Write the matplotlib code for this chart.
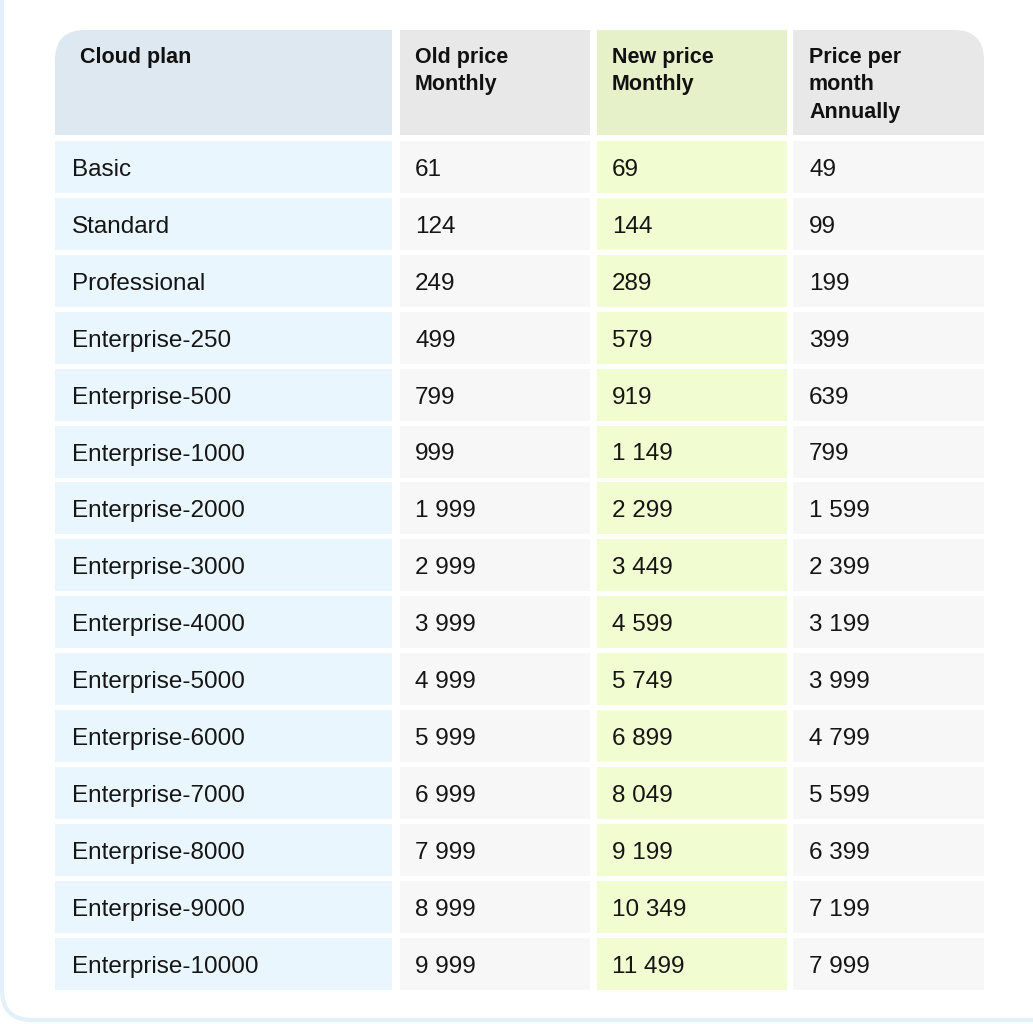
import matplotlib
matplotlib.use("Agg")
import matplotlib.pyplot as plt
from matplotlib.patches import Rectangle, FancyBboxPatch

plans = ["Basic", "Standard", "Professional", "Enterprise-250", "Enterprise-500",
         "Enterprise-1000", "Enterprise-2000", "Enterprise-3000", "Enterprise-4000",
         "Enterprise-5000", "Enterprise-6000", "Enterprise-7000", "Enterprise-8000",
         "Enterprise-9000", "Enterprise-10000"]
old_monthly = [61, 124, 249, 499, 799, 999, 1999, 2999, 3999, 4999, 5999, 6999, 7999, 8999, 9999]
new_monthly = [69, 144, 289, 579, 919, 1149, 2299, 3449, 4599, 5749, 6899, 8049, 9199, 10349, 11499]
annual_per_month = [49, 99, 199, 399, 639, 799, 1599, 2399, 3199, 3999, 4799, 5599, 6399, 7199, 7999]
headers = ["Cloud plan", "Old price\nMonthly", "New price\nMonthly", "Price per\nmonth\nAnnually"]

def fmt(v):
    return f"{v:,}".replace(",", " ")

plt.rcParams["font.family"] = ["Liberation Sans", "DejaVu Sans"]
fig = plt.figure(figsize=(10.33, 10.24), dpi=100)
ax = fig.add_axes([0, 0, 1, 1])
ax.set_xlim(0, 1033)
ax.set_ylim(1024, 0)
ax.axis("off")

# outer light-blue frame
frame = FancyBboxPatch((2, -60), 1100, 1080, boxstyle="round,pad=0,rounding_size=30",
                       fill=False, ec="#e2f0fa", lw=3)
ax.add_patch(frame)

cols = [(55, 392), (400, 590), (597, 787), (793, 984)]
head_colors = ["#dde8f1", "#e8e8e8", "#e6f0c9", "#e8e8e8"]
body_colors = ["#eaf6fd", "#f7f7f7", "#f1fcd0", "#f7f7f7"]
text_pad = [17, 15, 15, 16]

clip = FancyBboxPatch((55, 30), 929, 1100, boxstyle="round,pad=0,rounding_size=30",
                      transform=ax.transData, visible=False)
ax.add_patch(clip)

head_top, head_bot = 30, 135
for (x0, x1), c, h, p in zip(cols, head_colors, headers, text_pad):
    r = Rectangle((x0, head_top), x1 - x0, head_bot - head_top, fc=c, ec="none")
    ax.add_patch(r)
    r.set_clip_path(clip)
    ax.text(x0 + p + (8 if p == 17 else 0), 47, h, fontsize=15.5, fontweight="bold",
            va="top", ha="left", color="#111111", linespacing=1.4)

row_top, row_h, pitch = 141, 52, 56.9
cells = [plans, [fmt(v) for v in old_monthly], [fmt(v) for v in new_monthly],
         [fmt(v) for v in annual_per_month]]
for i in range(len(plans)):
    y0 = row_top + i * pitch
    for j, ((x0, x1), c) in enumerate(zip(cols, body_colors)):
        ax.add_patch(Rectangle((x0, y0), x1 - x0, row_h, fc=c, ec="none"))
        ax.text(x0 + text_pad[j], y0 + row_h / 2 + 3, cells[j][i], fontsize=17.5,
                va="center", ha="left", color="#151515")

fig.savefig("out.png", dpi=100, facecolor="white")
